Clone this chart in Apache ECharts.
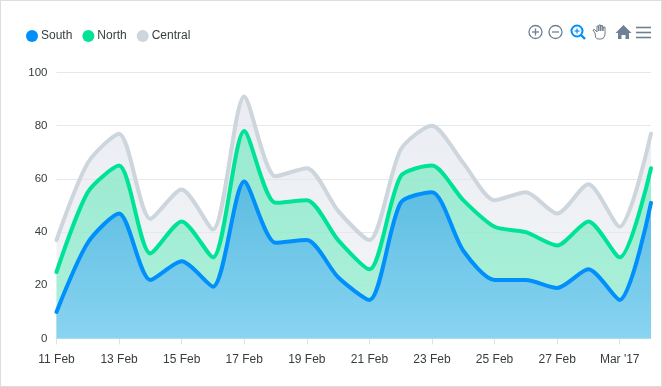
<!DOCTYPE html>
<html><head><meta charset="utf-8">
<style>html,body{margin:0;padding:0;background:#fff}
#frame{position:absolute;left:0;top:0;width:660px;height:385px;border:1px solid #ddd;}
#c{position:absolute;left:-1px;top:-1px;width:662px;height:387px}</style>
<script src="https://cdn.jsdelivr.net/npm/echarts@6/dist/echarts.min.js"></script>
</head><body><div id="frame"><div id="c"></div></div>
<script>
const categories = ['11 Feb','12 Feb','13 Feb','14 Feb','15 Feb','16 Feb','17 Feb','18 Feb','19 Feb','20 Feb','21 Feb','22 Feb','23 Feb','24 Feb','25 Feb','26 Feb','27 Feb','28 Feb',"Mar '17",'2 Mar'];
const south = [10,36,47,22,29,19.5,59,36,37,23,14.5,51,55,33,22,22,19,26,14.5,51];
const north = [25,55,65,32,44,30.5,78,51,52,37,26,61,65,52,42,40,35,44,30.5,64];
const central = [37,66,77,45,56,41,91,61,64,48,37,71,80,66,52,55,47,58,42,77];
const yTicks = [0,20,40,60,80,100];
const chart = echarts.init(document.getElementById('c'));
const font = 'Helvetica, Arial, "Liberation Sans", sans-serif';
function area(name, data, color, top, bottom, z){
  return {name, type:'line', data, smooth:0.25, symbol:'none', z,
    lineStyle:{color, width:4, cap:'round', join:'round'},
    itemStyle:{color},
    areaStyle:{color:new echarts.graphic.LinearGradient(0,0,0,1,[
      {offset:0,color:top},{offset:1,color:bottom}]), opacity:1}};
}
const iconColor = '#6e8192';
function circleIcon(cx, cy, r, color, plus){
  const lines = [{type:'circle',shape:{cx,cy,r},style:{fill:'none',stroke:color,lineWidth:1.3}},
    {type:'line',shape:{x1:cx-r+3,y1:cy,x2:cx+r-3,y2:cy},style:{stroke:color,lineWidth:1.3}}];
  if(plus) lines.push({type:'line',shape:{x1:cx,y1:cy-r+3,x2:cx,y2:cy+r-3},style:{stroke:color,lineWidth:1.3}});
  return lines;
}
const handPts = [[595,33],[593,30],[594.5,29.5],[597,32],[597,26],[598.5,26],[598.8,31],[599,25],[600.5,25],[600.8,31],[601,25.5],[602.5,25.5],[602.8,31],[603.5,27],[605,27],[605,35],[603.5,38],[601,39],[598,39],[596.5,38.3],[595.5,37]];
const homePts = [[623.5,25],[631.5,33],[629,33],[629,39],[625.5,39],[625.5,35],[621.5,35],[621.5,39],[618,39],[618,33],[615.5,33]];
const icons = [
  ...circleIcon(535.5,32,6.5,iconColor,true),
  ...circleIcon(555.5,32,6.5,iconColor,false),
  {type:'circle',shape:{cx:577,cy:31,r:5.5},style:{fill:'none',stroke:'#008ffb',lineWidth:2}},
  {type:'line',shape:{x1:581,y1:35,x2:585,y2:39},style:{stroke:'#008ffb',lineWidth:2.4}},
  {type:'line',shape:{x1:574.5,y1:31,x2:579.5,y2:31},style:{stroke:'#008ffb',lineWidth:1.2}},
  {type:'line',shape:{x1:577,y1:28.5,x2:577,y2:33.5},style:{stroke:'#008ffb',lineWidth:1.2}},
  {type:'polygon',shape:{points:handPts},style:{fill:'#fff',stroke:'#6e7c88',lineWidth:1}},
  {type:'polygon',shape:{points:homePts},style:{fill:iconColor}},
  {type:'line',shape:{x1:636,y1:27.5,x2:651,y2:27.5},style:{stroke:iconColor,lineWidth:1.6}},
  {type:'line',shape:{x1:636,y1:32.5,x2:651,y2:32.5},style:{stroke:iconColor,lineWidth:1.6}},
  {type:'line',shape:{x1:636,y1:37.5,x2:651,y2:37.5},style:{stroke:iconColor,lineWidth:1.6}}
];
chart.setOption({
  animation:false,
  textStyle:{fontFamily:font},
  color:['#008ffb','#00e396','#cdd5dd'],
  legend:{left:21,top:25,icon:'circle',itemWidth:12,itemHeight:12,itemGap:10,
    data:['South','North','Central'],
    textStyle:{color:'#373d3f',fontSize:12,fontFamily:font,padding:[3,0,0,-2]}},
  grid:{left:56.5,right:11,top:72.5,bottom:48.5},
  xAxis:{type:'category',data:categories,boundaryGap:false,
    axisLine:{lineStyle:{color:'#e3e6ea',width:1}},
    axisTick:{show:true,interval:1,length:6,lineStyle:{color:'#dfe3e7'}},
    axisLabel:{interval:1,color:'#373d3f',fontSize:12,margin:15,hideOverlap:false},
    splitLine:{show:false}},
  yAxis:{type:'value',min:0,max:100,interval:20,
    axisLine:{show:false},axisTick:{show:false},
    axisLabel:{color:'#373d3f',fontSize:11.5,margin:9,padding:[0,0,2,0],formatter:v=>yTicks.includes(v)?String(v):''},
    splitLine:{lineStyle:{color:'#e6e8ea',width:1}}},
  series:[
    area('Central',central,'#cdd5dd','rgba(220,224,232,0.6)','rgba(236,240,245,0.6)',2),
    area('North',north,'#00e396','rgba(125,232,196,0.75)','rgba(150,238,208,0.75)',3),
    area('South',south,'#008ffb','rgba(88,186,226,0.95)','rgba(137,212,241,1)',4)
  ],
  graphic:{elements:icons}
});
</script></body></html>
